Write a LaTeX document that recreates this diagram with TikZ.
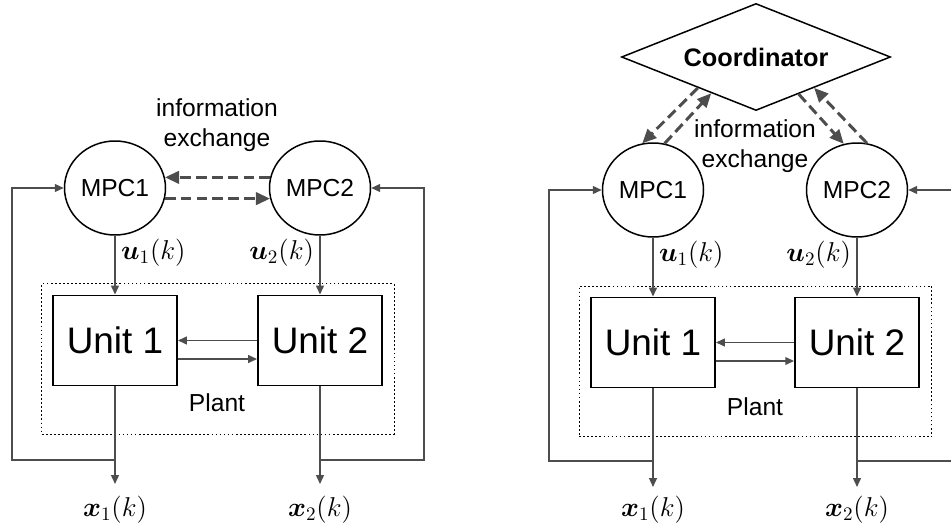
\RequirePackage{fix-cm}
\documentclass[tikz,border=0pt]{standalone}
\usepackage{fontspec}
\setmainfont{Liberation Sans}
\usepackage{bm}
\usetikzlibrary{arrows.meta, shapes.geometric}
\definecolor{wire}{HTML}{4D4D4D}

\begin{document}
\begin{tikzpicture}[
    mpc/.style={draw, ellipse, line width=0.85pt, minimum width=2.02cm, minimum height=1.88cm, inner sep=0pt, font=\fontsize{14}{17}\selectfont},
    coord/.style={draw, diamond, shape aspect=2.5, minimum width=5.38cm, minimum height=2.14cm, inner sep=0pt, line width=0.85pt, font=\bfseries\fontsize{14.4}{17}\selectfont},
    unit/.style={draw, line width=1.1pt, minimum width=2.48cm, minimum height=1.8cm, font=\fontsize{21}{25}\selectfont},
    plantbox/.style={draw, line width=0.7pt, dash pattern=on 1pt off 1.3pt, minimum width=7.05cm, minimum height=3.01cm},
    txt/.style={font=\fontsize{14}{17}\selectfont, align=center},
    sig/.style={font=\fontsize{15.5}{18}\selectfont, inner sep=3pt},
    flow/.style={draw=wire, line width=0.9pt, -{Triangle[length=5pt, width=4.4pt]}},
    infoflow/.style={draw=wire, line width=1.7pt, dash pattern=on 6pt off 3pt, -{Triangle[length=8pt, width=7pt]}}
  ]
  \useasboundingbox (0, 0) rectangle (19.02, 10.5);

  % Decentralised
  \node[txt] (l_info) at (4.34, 8.00) {information\\exchange};
  \node[mpc] (l_mpc1) at (2.30, 6.74) {MPC1};
  \node[mpc] (l_mpc2) at (6.40, 6.74) {MPC2};
  \node[plantbox] (l_plant) at (4.36, 3.32) {};
  \node[unit] (l_unit1) at (2.30, 3.69) {Unit 1};
  \node[unit] (l_unit2) at (6.40, 3.69) {Unit 2};
  \node[txt] (l_plantlbl) at (4.34, 2.44) {Plant};

  \coordinate (l_out1) at (2.30, 0.82);
  \coordinate (l_out2) at (6.40, 0.82);
  \coordinate (l_j1) at (2.30, 1.30);
  \coordinate (l_j2) at (6.40, 1.30);
  \coordinate (l_fb1) at (0.24, 1.30);
  \coordinate (l_fb2) at (8.48, 1.30);
  \node[sig] (l_x1) at (2.30, 0.30) {$\bm{x}_1(k)$};
  \node[sig] (l_x2) at (6.40, 0.30) {$\bm{x}_2(k)$};

  \draw[infoflow] (l_mpc2.168) -- (l_mpc1.12);
  \draw[infoflow] (l_mpc1.-12) -- (l_mpc2.192);

  \draw[flow] (l_mpc1) -- node[sig, right, pos=0.28] {$\bm{u}_1(k)$} (l_unit1);
  \draw[flow] (l_mpc2) -- node[sig, left, pos=0.28] {$\bm{u}_2(k)$} (l_unit2);
  \draw[flow] (l_unit2.west) -- (l_unit1.east);
  \draw[flow] ([yshift=-0.37cm]l_unit1.east) -- ([yshift=-0.37cm]l_unit2.west);
  \draw[flow] (l_unit1) -- (l_out1);
  \draw[flow] (l_unit2) -- (l_out2);
  \draw[flow] (l_j1) -- (l_fb1) |- (l_mpc1);
  \draw[flow] (l_j2) -- (l_fb2) |- (l_mpc2);

  % Coordinated
  \node[coord] (r_coord) at (15.12, 9.36) {Coordinator};
  \node[txt] (r_info) at (15.10, 7.58) {information\\exchange};
  \node[mpc] (r_mpc1) at (13.06, 6.70) {MPC1};
  \node[mpc] (r_mpc2) at (17.14, 6.70) {MPC2};
  \node[plantbox] (r_plant) at (15.11, 3.27) {};
  \node[unit] (r_unit1) at (13.06, 3.65) {Unit 1};
  \node[unit] (r_unit2) at (17.14, 3.65) {Unit 2};
  \node[txt] (r_plantlbl) at (15.10, 2.36) {Plant};

  \coordinate (r_out1) at (13.06, 0.76);
  \coordinate (r_out2) at (17.14, 0.76);
  \coordinate (r_j1) at (13.06, 1.28);
  \coordinate (r_j2) at (17.14, 1.28);
  \coordinate (r_fb1) at (10.98, 1.28);
  \coordinate (r_fb2) at (19.30, 1.28);
  \node[sig] (r_x1) at (13.06, 0.30) {$\bm{x}_1(k)$};
  \node[sig] (r_x2) at (17.14, 0.30) {$\bm{x}_2(k)$};

  \draw[infoflow] (r_coord.208) -- (r_mpc1.103);
  \draw[infoflow] (r_mpc1.76) -- (r_coord.219);
  \draw[infoflow] (r_coord.319) -- (r_mpc2.106);
  \draw[infoflow] (r_mpc2.78) -- (r_coord.332);

  \draw[flow] (r_mpc1) -- node[sig, right, pos=0.28] {$\bm{u}_1(k)$} (r_unit1);
  \draw[flow] (r_mpc2) -- node[sig, left, pos=0.28] {$\bm{u}_2(k)$} (r_unit2);
  \draw[flow] (r_unit2.west) -- (r_unit1.east);
  \draw[flow] ([yshift=-0.37cm]r_unit1.east) -- ([yshift=-0.37cm]r_unit2.west);
  \draw[flow] (r_unit1) -- (r_out1);
  \draw[flow] (r_unit2) -- (r_out2);
  \draw[flow] (r_j1) -- (r_fb1) |- (r_mpc1);
  \draw[flow] (r_j2) -- (r_fb2) |- (r_mpc2);

\end{tikzpicture}
\end{document}
